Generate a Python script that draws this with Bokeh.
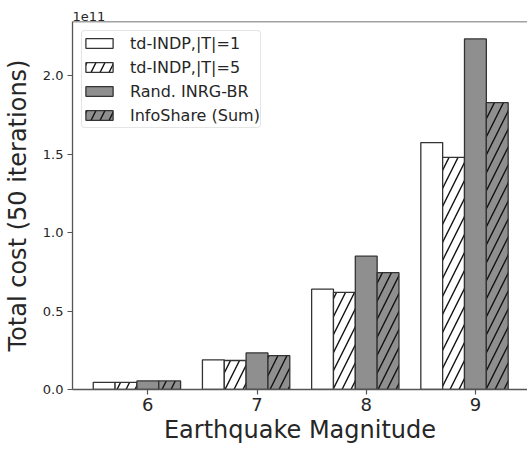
from bokeh.plotting import figure
from bokeh.models import (ColumnDataSource, Range1d, FixedTicker, CustomJSTickFormatter,
                          Legend, LegendItem, Span, Title)
from bokeh.transform import dodge
from bokeh.embed import file_html
from bokeh.resources import INLINE

# ---- data ----
magnitudes = [6, 7, 8, 9]
x_tick_labels = ["6", "7", "8", "9"]
cost_td_t1 = [0.046e11, 0.189e11, 0.640e11, 1.575e11]
cost_td_t5 = [0.046e11, 0.185e11, 0.620e11, 1.480e11]
cost_rand_inrg = [0.055e11, 0.233e11, 0.850e11, 2.236e11]
cost_infoshare = [0.055e11, 0.216e11, 0.745e11, 1.830e11]
series_names = ["td-INDP,|T|=1", "td-INDP,|T|=5", "Rand. INRG-BR", "InfoShare (Sum)"]
y_ticks = [0.0, 0.5e11, 1.0e11, 1.5e11, 2.0e11]

FONT = "DejaVu Sans"
TXT = "#262626"

src = ColumnDataSource(dict(x=magnitudes, a=cost_td_t1, b=cost_td_t5,
                            c=cost_rand_inrg, d=cost_infoshare))

p = figure(width=527, height=446, output_backend="svg", toolbar_location=None,
           x_range=Range1d(5.31, 9.477), y_range=Range1d(0, 2.347e11),
           min_border_left=70, min_border_right=0, min_border_top=21,
           min_border_bottom=56)

p.title = Title(text="1e11", align="left", text_font=FONT, text_font_size="13px",
                text_font_style="normal", text_color=TXT, standoff=2, offset=0)

GRAY = "#8f8f8f"
EDGE = "#333333"
W = 0.2
specs = [("a", -0.4, "white", None),
         ("b", -0.2, "white", "right_diagonal_line"),
         ("c", 0.0, GRAY, None),
         ("d", 0.2, GRAY, "right_diagonal_line")]
renderers = []
for col, off, fill, hatch in specs:
    kw = {}
    if hatch:
        kw = dict(hatch_pattern=hatch, hatch_color="#111111", hatch_scale=18,
                  hatch_weight=1.4)
    r = p.vbar(x=dodge("x", off, range=p.x_range), top=col, width=W, source=src,
               fill_color=fill, line_color=EDGE, line_width=1.3, **kw)
    renderers.append(r)

legend = Legend(items=[LegendItem(label=n, renderers=[r]) for n, r in zip(series_names, renderers)],
                location="top_left", label_text_font=FONT, label_text_font_size="16px",
                label_text_color=TXT, glyph_width=34, glyph_height=12, label_standoff=14,
                label_height=24, spacing=0, padding=0, margin=9,
                border_line_color="#cccccc", border_line_width=1, border_radius=4,
                background_fill_alpha=0.8)
p.add_layout(legend)

p.xgrid.visible = False
p.ygrid.visible = False
p.outline_line_color = None
p.add_layout(Span(location=2.347e11, dimension="width", line_color="#444444", line_width=1.3))

# x axis
p.xaxis.ticker = FixedTicker(ticks=magnitudes)
p.xaxis.major_label_overrides = {m: l for m, l in zip(magnitudes, x_tick_labels)}
p.xaxis.axis_label = "Earthquake Magnitude"
p.xaxis.major_label_text_font_size = "18px"
# y axis
p.yaxis.ticker = FixedTicker(ticks=y_ticks)
p.yaxis.formatter = CustomJSTickFormatter(code="return (tick/1e11).toFixed(1);")
p.yaxis.axis_label = "Total cost (50 iterations)"
p.yaxis.major_label_text_font_size = "13px"

for ax in (p.xaxis[0], p.yaxis[0]):
    ax.axis_label_text_font = FONT
    ax.axis_label_text_font_size = "24px"
    ax.axis_label_text_font_style = "normal"
    ax.axis_label_text_color = TXT
    ax.major_label_text_font = FONT
    ax.major_label_text_color = TXT
    ax.axis_line_color = "#555555"
    ax.axis_line_width = 1.3
    ax.major_tick_line_color = "#555555"
    ax.major_tick_line_width = 1.2
    ax.major_tick_out = 5
    ax.major_tick_in = 0
    ax.minor_tick_line_color = None
    ax.major_label_standoff = 4
p.xaxis.major_label_standoff = 3
p.xaxis.axis_label_standoff = 2
p.yaxis.axis_label_standoff = 8

open("out.html", "w").write(file_html(p, INLINE))
